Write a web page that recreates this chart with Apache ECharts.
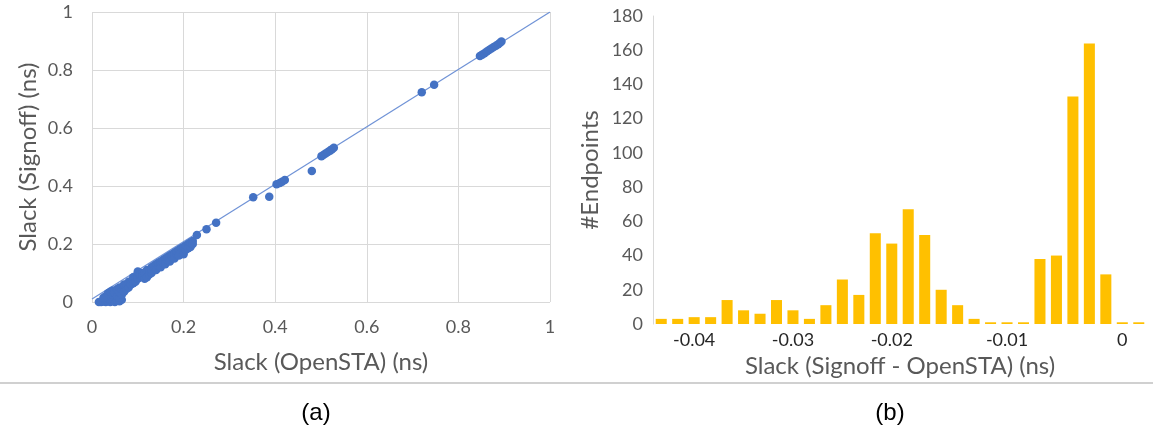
<!DOCTYPE html>
<html>
<head>
<meta charset="utf-8">
<script src="https://cdn.jsdelivr.net/npm/echarts@6/dist/echarts.min.js"></script>
<style>
html,body{margin:0;padding:0;background:#fff;}
#chart{width:1153px;height:440px;}
</style>
</head>
<body>
<div id="chart"></div>
<script>
// (a) scatter: Slack (OpenSTA) vs Slack (Signoff)
const scatterPoints = [
  [0.015,0.0],[0.02,0.0],[0.025,0.002],[0.03,0.0],[0.03,0.005],[0.035,0.003],[0.04,0.0],[0.04,0.008],
  [0.045,0.004],[0.05,0.0],[0.05,0.01],[0.055,0.005],[0.06,0.003],[0.065,0.008],[0.035,0.012],[0.04,0.02],
  [0.045,0.025],[0.03,0.02],[0.025,0.015],[0.035,0.03],[0.04,0.035],[0.045,0.04],[0.05,0.03],[0.055,0.02],
  [0.06,0.015],[0.055,0.045],[0.06,0.035],[0.06,0.05],[0.065,0.04],[0.065,0.025],[0.07,0.05],[0.07,0.035],
  [0.07,0.06],[0.075,0.045],[0.075,0.06],[0.08,0.06],[0.08,0.05],[0.08,0.07],[0.085,0.07],[0.085,0.06],
  [0.09,0.075],[0.09,0.065],[0.09,0.085],[0.095,0.08],[0.095,0.07],[0.1,0.09],[0.1,0.08],[0.1,0.105],
  [0.105,0.085],[0.105,0.095],[0.11,0.1],[0.11,0.09],[0.115,0.08],[0.115,0.1],[0.12,0.1],[0.12,0.085],
  [0.12,0.11],[0.125,0.11],[0.125,0.095],[0.13,0.12],[0.13,0.1],[0.13,0.11],[0.135,0.115],[0.135,0.125],
  [0.14,0.13],[0.14,0.12],[0.14,0.11],[0.145,0.125],[0.145,0.135],[0.15,0.14],[0.15,0.13],[0.15,0.12],
  [0.155,0.135],[0.155,0.145],[0.16,0.15],[0.16,0.14],[0.16,0.13],[0.165,0.145],[0.165,0.155],
  [0.17,0.16],[0.17,0.15],[0.17,0.14],[0.175,0.155],[0.175,0.165],[0.18,0.17],[0.18,0.16],[0.18,0.15],
  [0.185,0.165],[0.185,0.175],[0.19,0.18],[0.19,0.17],[0.19,0.16],[0.195,0.175],[0.195,0.185],
  [0.2,0.19],[0.2,0.175],[0.2,0.165],[0.205,0.18],[0.205,0.195],[0.21,0.2],[0.21,0.185],[0.215,0.19],
  [0.215,0.205],[0.22,0.21],[0.22,0.2],[0.229,0.231],[0.25,0.251],[0.271,0.273],
  [0.352,0.361],[0.387,0.363],[0.403,0.406],[0.41,0.41],[0.415,0.415],[0.421,0.421],[0.48,0.452],
  [0.501,0.503],[0.505,0.507],[0.51,0.512],[0.515,0.517],[0.52,0.522],[0.524,0.527],[0.528,0.532],
  [0.72,0.723],[0.747,0.749],
  [0.847,0.848],[0.852,0.853],[0.857,0.858],[0.862,0.864],[0.867,0.869],[0.872,0.874],[0.877,0.879],
  [0.882,0.884],[0.887,0.889],[0.891,0.894],[0.894,0.898]
];
const trendLine = [[0,0.01],[1,1]];

// (b) histogram: Slack (Signoff - OpenSTA)
const histLabels = ['','','-0.04','','','','','','-0.03','','','','','','-0.02','','','','','','','-0.01','','','','','','','0',''];
const histCounts = [3,3,4,4,14,8,6,14,8,3,11,26,17,53,47,67,52,20,11,3,1,1,1,38,40,133,164,29,1,1];

const FONT = 'Lato';
const GRAY = '#595959';
const GRID = '#d9d9d9';
const TITLE = 24;
const TICK = 18;

const chart = echarts.init(document.getElementById('chart'), null, {renderer:'canvas'});
chart.setOption({
  animation:false,
  backgroundColor:'#fff',
  grid:[
    {left:92, top:12, width:458, height:290},
    {left:653, top:16, width:494, height:308}
  ],
  xAxis:[
    {gridIndex:0, type:'value', min:0, max:1, interval:0.2,
     name:'Slack (OpenSTA) (ns)', nameLocation:'middle', nameGap:48,
     nameTextStyle:{fontFamily:FONT, fontSize:TITLE, color:GRAY},
     axisLine:{show:false}, axisTick:{show:false},
     splitLine:{show:true, lineStyle:{color:GRID, width:1}},
     axisLabel:{fontFamily:FONT, fontSize:TICK, color:GRAY, margin:16,
       formatter:v=>String(+v.toFixed(1))}},
    {gridIndex:1, type:'category', data:histLabels,
     name:'Slack (Signoff - OpenSTA) (ns)', nameLocation:'middle', nameGap:24,
     nameTextStyle:{fontFamily:FONT, fontSize:TITLE, color:GRAY},
     axisLine:{show:false}, axisTick:{show:false},
     axisLabel:{interval:0, fontFamily:FONT, fontSize:TICK, color:'#262626', margin:7}}
  ],
  yAxis:[
    {gridIndex:0, type:'value', min:0, max:1, interval:0.2,
     name:'Slack (Signoff) (ns)', nameLocation:'middle', nameGap:52,
     nameTextStyle:{fontFamily:FONT, fontSize:TITLE, color:GRAY},
     axisLine:{show:false}, axisTick:{show:false},
     splitLine:{show:true, lineStyle:{color:GRID, width:1}},
     axisLabel:{fontFamily:FONT, fontSize:TICK, color:GRAY, margin:19,
       formatter:v=>String(+v.toFixed(1))}},
    {gridIndex:1, type:'value', min:0, max:180, interval:20,
     name:'#Endpoints', nameLocation:'middle', nameGap:51,
     nameTextStyle:{fontFamily:FONT, fontSize:TITLE, color:GRAY},
     axisLine:{show:true, lineStyle:{color:GRID, width:1}}, axisTick:{show:false},
     splitLine:{show:false},
     axisLabel:{fontFamily:FONT, fontSize:TICK, color:GRAY, margin:10}}
  ],
  series:[
    {type:'line', xAxisIndex:0, yAxisIndex:0, data:trendLine, symbol:'none',
     lineStyle:{color:'#6f92d6', width:1.2}, z:1},
    {type:'scatter', xAxisIndex:0, yAxisIndex:0, data:scatterPoints, symbolSize:8.5,
     itemStyle:{color:'#4472C4', opacity:1}, z:2},
    {type:'bar', xAxisIndex:1, yAxisIndex:1, data:histCounts, barCategoryGap:'33%',
     itemStyle:{color:'#FFC000'}}
  ],
  graphic:[
    {type:'line', shape:{x1:0,y1:383,x2:1153,y2:383}, style:{stroke:'#c0c0c0', lineWidth:1.5}},
    {type:'text', x:316, y:413, style:{text:'(a)', font:'24px "Liberation Sans"', fill:'#000', textAlign:'center', textVerticalAlign:'middle'}},
    {type:'text', x:890, y:413, style:{text:'(b)', font:'24px "Liberation Sans"', fill:'#000', textAlign:'center', textVerticalAlign:'middle'}}
  ]
});
</script>
</body>
</html>
